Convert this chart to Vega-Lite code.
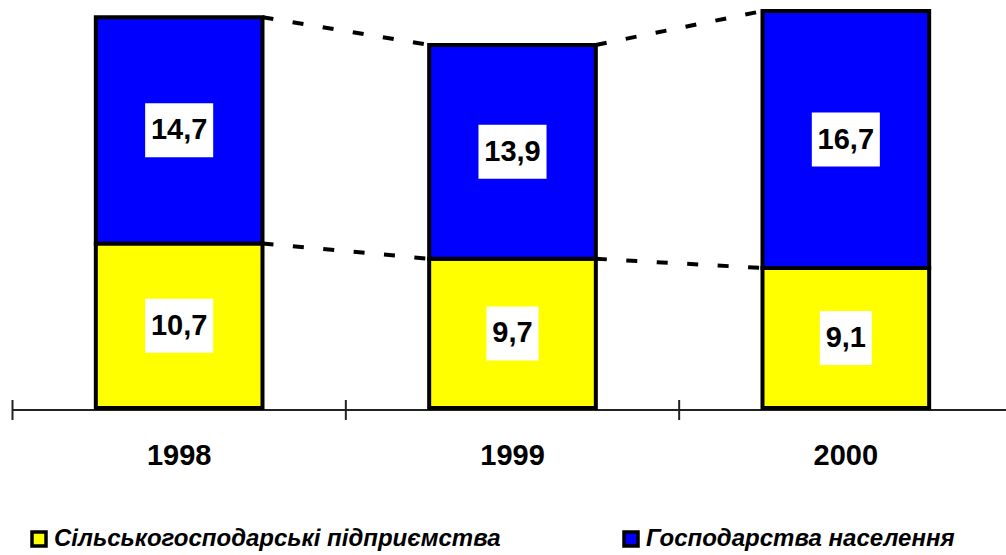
{
  "$schema": "https://vega.github.io/schema/vega-lite/v6.json",
  "width": 1000,
  "height": 400,
  "autosize": {"type": "none"},
  "padding": {"left": 12.5, "top": 8, "right": -6.5, "bottom": 147},
  "background": "white",
  "config": {"view": {"stroke": null}},
  "datasets": {
    "main": [
      {"year": "1998", "cat": "Сільськогосподарські підприємства", "value": 10.7},
      {"year": "1998", "cat": "Господарства населення", "value": 14.7},
      {"year": "1999", "cat": "Сільськогосподарські підприємства", "value": 9.7},
      {"year": "1999", "cat": "Господарства населення", "value": 13.9},
      {"year": "2000", "cat": "Сільськогосподарські підприємства", "value": 9.1},
      {"year": "2000", "cat": "Господарства населення", "value": 16.7}
    ],
    "links": [
      {"from": "1998", "to": "1999", "start": 25.4, "end": 23.6},
      {"from": "1998", "to": "1999", "start": 10.7, "end": 9.7},
      {"from": "1999", "to": "2000", "start": 23.6, "end": 25.8},
      {"from": "1999", "to": "2000", "start": 9.7, "end": 9.1}
    ]
  },
  "data": {"name": "main"},
  "transform": [
    {"window": [{"op": "sum", "field": "value", "as": "y1"}], "groupby": ["year"], "sort": [{"field": "cat", "order": "descending"}], "frame": [null, 0]},
    {"calculate": "datum.y1 - datum.value", "as": "y0"},
    {"calculate": "(datum.y0 + datum.y1) / 2", "as": "mid"}
  ],
  "layer": [
    {
      "data": {"values": [{"axis": "x"}]},
      "mark": {"type": "rule", "stroke": "#222222", "strokeWidth": 2, "yOffset": 2},
      "encoding": {"y": {"datum": 0, "type": "quantitative", "axis": null}}
    },
    {
      "transform": [{"filter": "datum.cat == 'Господарства населення'"}],
      "mark": {"type": "rule", "stroke": "#222222", "strokeWidth": 2, "xOffset": -166.67, "x2Offset": -166.67, "yOffset": -8, "y2Offset": 12},
      "encoding": {
        "x": {"field": "year", "type": "nominal", "axis": null},
        "y": {"datum": 0, "type": "quantitative", "axis": null},
        "y2": {"datum": 0}
      }
    },
    {
      "transform": [{"filter": "datum.cat == 'Господарства населення'"}],
      "mark": {"type": "text", "font": "Liberation Sans", "fontWeight": "bold", "fontSize": 29, "color": "black", "baseline": "alphabetic", "align": "center", "dy": 57},
      "encoding": {
        "x": {"field": "year", "type": "nominal", "axis": null},
        "y": {"datum": 0, "type": "quantitative", "axis": null},
        "text": {"field": "year", "type": "nominal"}
      }
    },
    {
      "mark": {"type": "bar", "width": {"band": 0.5}, "stroke": "black", "strokeWidth": 4},
      "encoding": {
        "x": {
          "field": "year",
          "type": "nominal",
          "scale": {"domain": ["1998", "1999", "2000"], "paddingInner": 0, "paddingOuter": 0},
          "axis": null
        },
        "y": {"field": "y1", "type": "quantitative", "scale": {"domain": [0, 26], "nice": false}, "axis": null},
        "y2": {"field": "y0"},
        "color": {
          "field": "cat",
          "type": "nominal",
          "scale": {
            "domain": ["Сільськогосподарські підприємства", "Господарства населення"],
            "range": ["#FFFF00", "#0000FF"]
          },
          "legend": {
            "orient": "none",
            "legendX": 14.5,
            "legendY": 519,
            "direction": "horizontal",
            "title": null,
            "padding": 0,
            "symbolType": "square",
            "symbolSize": 196,
            "symbolStrokeColor": "black",
            "symbolStrokeWidth": 3.5,
            "symbolOpacity": 1,
            "labelFont": "Liberation Sans",
            "labelFontSize": 24,
            "labelFontWeight": "bold",
            "labelFontStyle": "italic",
            "labelColor": "black",
            "labelOffset": 3,
            "labelLimit": 700,
            "columnPadding": 116
          }
        }
      }
    },
    {
      "data": {"name": "links"},
      "mark": {"type": "rule", "stroke": "black", "strokeWidth": 4, "strokeDash": [11, 19.5], "xOffset": 83.33, "x2Offset": -83.33},
      "encoding": {
        "x": {"field": "from", "type": "nominal", "axis": null},
        "x2": {"field": "to"},
        "y": {"field": "start", "type": "quantitative", "axis": null},
        "y2": {"field": "end"}
      }
    },
    {
      "transform": [{"filter": "datum.value >= 10"}],
      "mark": {"type": "point", "filled": true, "color": "white", "opacity": 1, "strokeWidth": 0, "size": 2916, "shape": "M-1.26,-1H1.26V1H-1.26Z"},
      "encoding": {
        "x": {"field": "year", "type": "nominal", "axis": null},
        "y": {"field": "mid", "type": "quantitative", "axis": null}
      }
    },
    {
      "transform": [{"filter": "datum.value < 10"}],
      "mark": {"type": "point", "filled": true, "color": "white", "opacity": 1, "strokeWidth": 0, "size": 2916, "shape": "M-0.963,-1H0.963V1H-0.963Z"},
      "encoding": {
        "x": {"field": "year", "type": "nominal", "axis": null},
        "y": {"field": "mid", "type": "quantitative", "axis": null}
      }
    },
    {
      "transform": [{"calculate": "replace(format(datum.value, '.1f'), '.', ',')", "as": "label"}],
      "mark": {"type": "text", "font": "Liberation Sans", "fontWeight": "bold", "fontSize": 29, "color": "black", "baseline": "middle", "align": "center"},
      "encoding": {
        "x": {"field": "year", "type": "nominal", "axis": null},
        "y": {"field": "mid", "type": "quantitative", "axis": null},
        "text": {"field": "label", "type": "nominal"}
      }
    }
  ]
}
